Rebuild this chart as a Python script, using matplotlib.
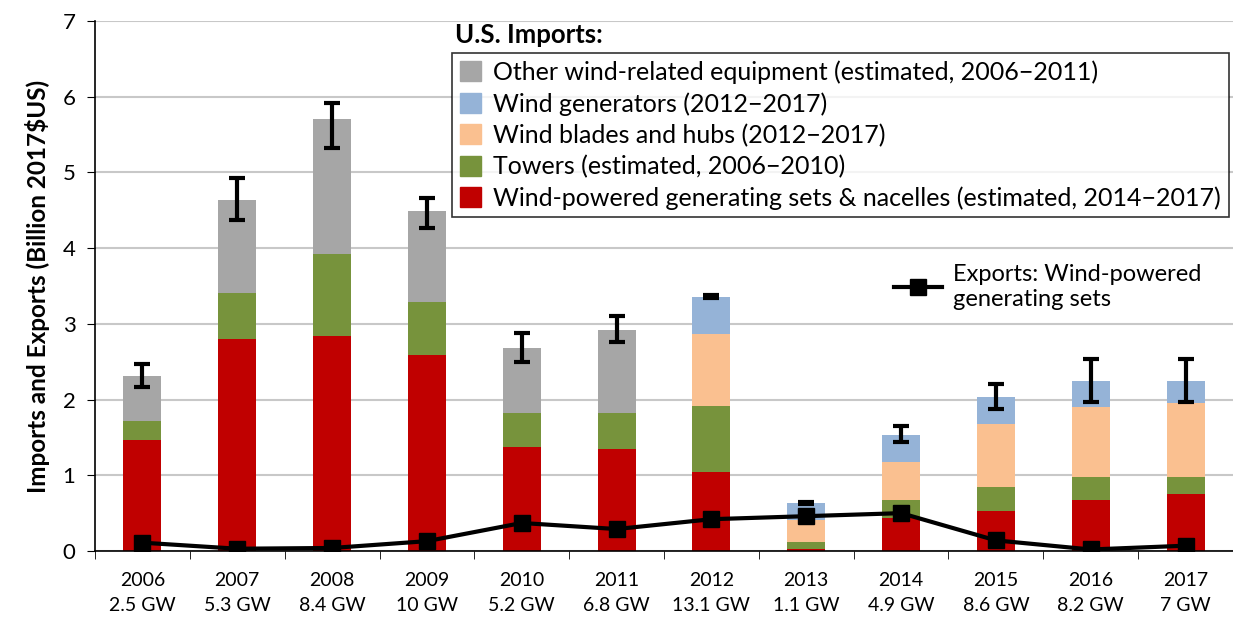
import numpy as np
import matplotlib.pyplot as plt
from matplotlib.patches import Patch
from matplotlib.lines import Line2D

plt.rcParams['font.family'] = ['Lato', 'DejaVu Sans']

years = ['2006', '2007', '2008', '2009', '2010', '2011',
         '2012', '2013', '2014', '2015', '2016', '2017']
capacity = ['2.5 GW', '5.3 GW', '8.4 GW', '10 GW', '5.2 GW', '6.8 GW',
            '13.1 GW', '1.1 GW', '4.9 GW', '8.6 GW', '8.2 GW', '7 GW']

# stacked import components (billion 2017$US)
gen_sets = [1.47, 2.80, 2.84, 2.59, 1.37, 1.35, 1.04, 0.03, 0.43, 0.53, 0.67, 0.75]
towers = [0.25, 0.61, 1.08, 0.70, 0.45, 0.47, 0.88, 0.09, 0.24, 0.31, 0.31, 0.23]
blades = [0.00, 0.00, 0.00, 0.00, 0.00, 0.00, 0.94, 0.29, 0.51, 0.84, 0.92, 0.97]
generators = [0.00, 0.00, 0.00, 0.00, 0.00, 0.00, 0.49, 0.22, 0.35, 0.36, 0.35, 0.30]
other = [0.59, 1.23, 1.78, 1.20, 0.86, 1.10, 0.00, 0.00, 0.00, 0.00, 0.00, 0.00]
err_lo = [0.15, 0.27, 0.38, 0.23, 0.19, 0.16, 0.01, 0.01, 0.09, 0.16, 0.28, 0.28]
err_hi = [0.16, 0.28, 0.22, 0.17, 0.20, 0.18, 0.03, 0.02, 0.12, 0.17, 0.28, 0.28]

exports = [0.11, 0.03, 0.04, 0.13, 0.37, 0.29, 0.42, 0.46, 0.50, 0.14, 0.02, 0.07]

c_red = '#C00000'
c_green = '#77933C'
c_orange = '#FAC090'
c_blue = '#95B3D7'
c_gray = '#A6A6A6'

fig = plt.figure(figsize=(12.33, 6.17), dpi=100)
ax = fig.add_axes([95 / 1233, 1 - 551 / 617, 1138 / 1233, 530 / 617])

x = np.arange(len(years))
w = 0.4
bottom = np.zeros(len(years))
for vals, col in [(gen_sets, c_red), (towers, c_green), (blades, c_orange),
                  (generators, c_blue), (other, c_gray)]:
    ax.bar(x, vals, w, bottom=bottom, color=col, zorder=2)
    bottom += np.array(vals)

ax.errorbar(x, bottom, yerr=[err_lo, err_hi], fmt='none', ecolor='black',
            elinewidth=3, capsize=6, capthick=3, zorder=3)

ax.plot(x, exports, color='black', lw=3, marker='s', markersize=11, zorder=4)

ax.set_xlim(-0.5, len(years) - 0.5)
ax.set_ylim(0, 7)
ax.set_yticks(range(8))
ax.tick_params(axis='y', labelsize=16, length=6, direction='out', color='black', pad=8)
ax.set_xticks(x)
ax.set_xticklabels([f'{y}\n{c}' for y, c in zip(years, capacity)], fontsize=14,
                   linespacing=1.6)
ax.tick_params(axis='x', which='major', length=0, pad=15)
ax.set_xticks(np.arange(-0.5, len(years)), minor=True)
ax.tick_params(axis='x', which='minor', length=6, direction='out', color='black')
ax.grid(axis='y', color='#C8C8C8', lw=1.5, zorder=0)
ax.set_axisbelow(True)
for s in ['top', 'right']:
    ax.spines[s].set_visible(False)
ax.spines['left'].set_linewidth(1.2)
ax.spines['bottom'].set_linewidth(1.2)
ax.set_ylabel('Imports and Exports (Billion 2017$US)', fontsize=17.5,
              fontweight='bold', labelpad=9)

handles = [Patch(color=c_gray), Patch(color=c_blue), Patch(color=c_orange),
           Patch(color=c_green), Patch(color=c_red)]
labels = ['Other wind-related equipment (estimated, 2006\u22122011)',
          'Wind generators (2012\u22122017)',
          'Wind blades and hubs (2012\u22122017)',
          'Towers (estimated, 2006\u22122010)',
          'Wind-powered generating sets & nacelles (estimated, 2014\u22122017)']
leg = ax.legend(handles, labels, loc='upper left',
                bbox_to_anchor=(452 / 1233, 1 - 53 / 617), bbox_transform=fig.transFigure,
                fontsize=18, frameon=True, fancybox=False, edgecolor='black',
                handlelength=0.85, handleheight=0.85, handletextpad=0.5,
                labelspacing=0.32, borderpad=0.3, borderaxespad=0)
leg.get_frame().set_linewidth(1.2)
ax.add_artist(leg)
fig.text(455 / 1233, 1 - 35 / 617, 'U.S. Imports:', fontsize=18.5, fontweight='bold',
         va='center', ha='left')

leg2 = ax.legend([Line2D([], [], color='black', lw=3, marker='s', markersize=11)],
                 ['Exports: Wind-powered\ngenerating sets'], loc='upper left',
                 bbox_to_anchor=(885 / 1233, 1 - 255 / 617), bbox_transform=fig.transFigure,
                 fontsize=17, frameon=False, handlelength=2.0, handletextpad=0.5,
                 borderaxespad=0)

fig.savefig('out.png', dpi=100)
